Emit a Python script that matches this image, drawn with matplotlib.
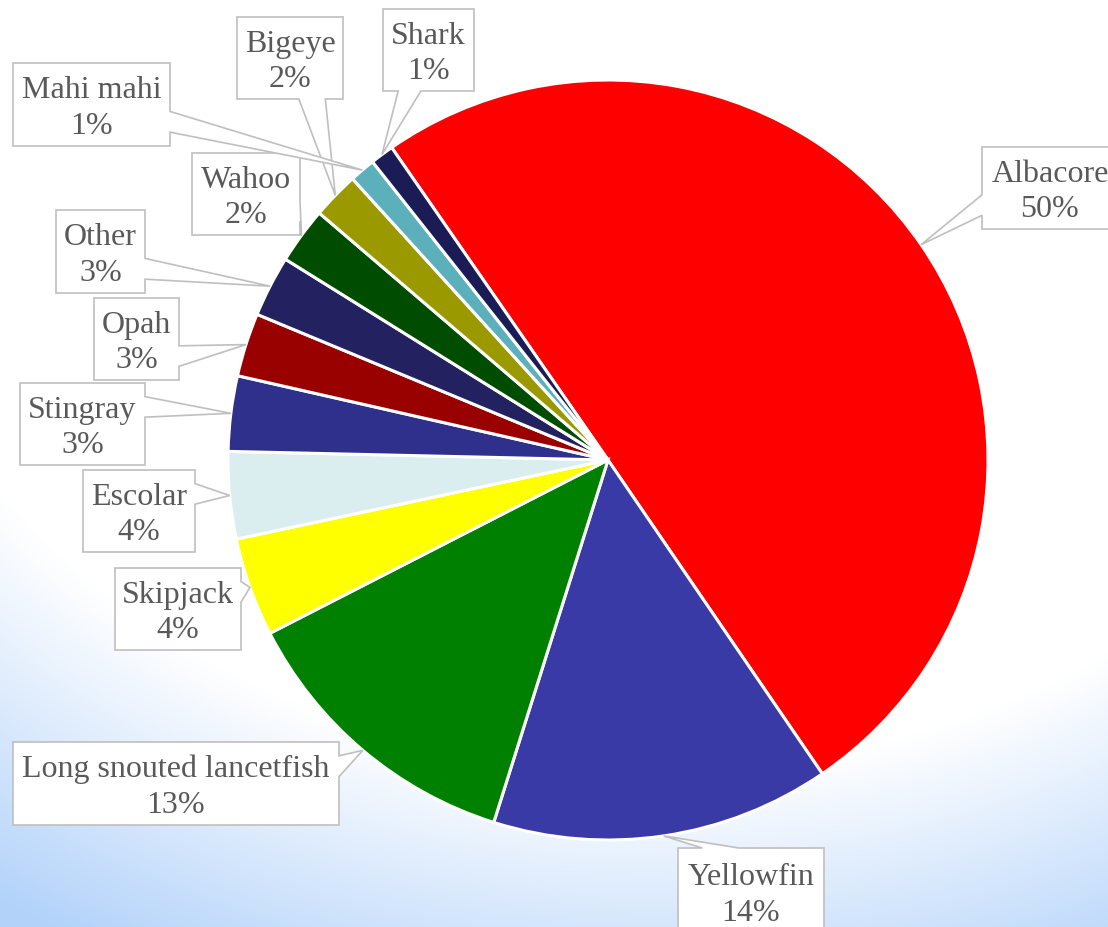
import numpy as np
import matplotlib.pyplot as plt
from matplotlib.patches import Polygon

# Catch composition (percent), clockwise from the top-left
species = ['Albacore', 'Yellowfin', 'Long snouted lancetfish', 'Skipjack', 'Escolar',
           'Stingray', 'Opah', 'Other', 'Wahoo', 'Bigeye', 'Mahi mahi', 'Shark']
share = [50.1, 14.4, 12.6, 4.2, 3.7, 3.2, 2.7, 2.6, 2.4, 2.0, 1.1, 1.0]
colors = ['#FF0000', '#3A3AA6', '#008000', '#FFFF00', '#DAEDEF', '#2F2F8C',
          '#990000', '#23215F', '#004C00', '#9A9A00', '#5BB0BC', '#1B1B55']

# label boxes in pixel coords (x0, y0, x1, y1), y measured from the top
boxes = [(982, 147, 1118, 229), (678, 848, 824, 935), (13, 742, 339, 825),
         (115, 568, 241, 650), (83, 470, 195, 552), (20, 383, 145, 465),
         (94, 298, 179, 380), (56, 210, 145, 293), (192, 153, 300, 235),
         (237, 17, 343, 99), (13, 63, 170, 146), (383, 9, 474, 91)]

W, H = 1108, 927
cx, cy, R = 608, 460, 380

fig = plt.figure(figsize=(W / 100, H / 100), dpi=100)
ax = fig.add_axes([0, 0, 1, 1])

# background gradient (white top/centre, light blue towards the bottom)
yy, xx = np.mgrid[0:H, 0:W]
d = np.hypot((xx - 650) / 1.3, yy - 180)
t = np.clip((d - 590) / 290, 0, 1)
white = np.array([1.0, 1.0, 1.0])
blue = np.array([178, 210, 250]) / 255
img = white * (1 - t[..., None]) + blue * t[..., None]
ax.imshow(img, extent=(0, W, H, 0), zorder=0)

wedges, _ = ax.pie(share, colors=colors, center=(cx, cy), radius=R,
                   startangle=-124.7, counterclock=True,
                   wedgeprops=dict(edgecolor='white', linewidth=2.2))
for w in wedges:
    w.set_zorder(2)

ax.set_xlim(0, W)
ax.set_ylim(H, 0)
ax.set_aspect('auto')
ax.axis('off')


def callout(box, tip):
    x0, y0, x1, y1 = box
    tx, ty = tip
    w, h = x1 - x0, y1 - y0
    dx, dy = tx - (x0 + x1) / 2, ty - (y0 + y1) / 2
    if abs(dy) - abs(dx * h / w) > 0:
        a = x0 + w * (7 if dx > 0 else 2) / 12
        b = x0 + w * (10 if dx > 0 else 5) / 12
        if dy > 0:
            pts = [(x0, y0), (x1, y0), (x1, y1), (b, y1), (tx, ty), (a, y1), (x0, y1)]
        else:
            pts = [(x0, y0), (a, y0), (tx, ty), (b, y0), (x1, y0), (x1, y1), (x0, y1)]
    else:
        a = y0 + h * (7 if dy > 0 else 2) / 12
        b = y0 + h * (10 if dy > 0 else 5) / 12
        if dx > 0:
            pts = [(x0, y0), (x1, y0), (x1, a), (tx, ty), (x1, b), (x1, y1), (x0, y1)]
        else:
            pts = [(x0, y0), (x1, y0), (x1, y1), (x0, y1), (x0, b), (tx, ty), (x0, a)]
    return Polygon(pts, closed=True, facecolor='white', edgecolor='#BFBFBF',
                   linewidth=1.2, zorder=3)


for w, name, val, box in zip(wedges, species, share, boxes):
    mid = np.radians((w.theta1 + w.theta2) / 2)
    tip = (cx + R * np.cos(mid), cy + R * np.sin(mid))
    ax.add_patch(callout(box, tip))
    ax.text((box[0] + box[2]) / 2, (box[1] + box[3]) / 2 + 4,
            f'{name}\n{round(val)}%', ha='center', va='center',
            family='Liberation Serif', fontsize=23, color='#595959',
            linespacing=1.3, zorder=4)

fig.savefig('out.png', dpi=100)
